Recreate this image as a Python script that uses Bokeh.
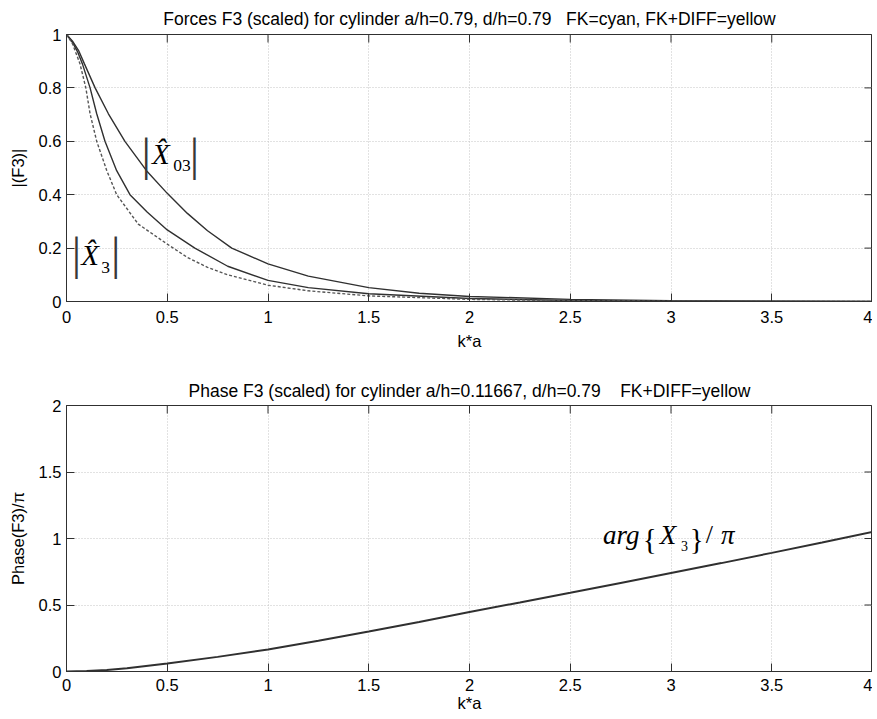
from bokeh.plotting import figure
from bokeh.layouts import column
from bokeh.models import FixedTicker, Range1d, Label
from bokeh.embed import file_html
from bokeh.resources import INLINE

# ---- data ----
ka_x03 = [0, 0.03, 0.06, 0.089, 0.142, 0.208, 0.29, 0.397, 0.5, 0.6, 0.7, 0.82, 1.0, 1.2, 1.5, 1.75, 2.0, 2.5, 3.0, 3.5, 4.0]
x03 = [1.0, 0.975, 0.94, 0.89, 0.80, 0.703, 0.60, 0.49, 0.405, 0.33, 0.265, 0.20, 0.141, 0.095, 0.052, 0.031, 0.019, 0.008, 0.003, 0.0012, 0.0005]

ka_x3 = [0, 0.03, 0.055, 0.079, 0.117, 0.150, 0.191, 0.249, 0.315, 0.4, 0.5, 0.637, 0.8, 1.0, 1.2, 1.5, 2.0, 2.5, 3.0, 4.0]
x3 = [1.0, 0.97, 0.935, 0.89, 0.80, 0.703, 0.60, 0.49, 0.40, 0.335, 0.268, 0.20, 0.132, 0.079, 0.052, 0.029, 0.011, 0.004, 0.0015, 0.0003]

ka_fk = [0, 0.03, 0.067, 0.096, 0.117, 0.150, 0.2, 0.249, 0.356, 0.5, 0.53, 0.6, 0.7, 0.8, 1.0, 1.2, 1.5, 2.0, 2.5, 3.0, 4.0]
fk = [1.0, 0.965, 0.89, 0.80, 0.703, 0.60, 0.49, 0.40, 0.29, 0.215, 0.20, 0.165, 0.128, 0.10, 0.061, 0.040, 0.021, 0.008, 0.003, 0.001, 0.0002]

phase_ka = [0, 0.1, 0.2, 0.3, 0.5, 0.75, 1.0, 1.25, 1.5, 1.75, 2.0, 2.25, 2.5, 2.75, 3.0, 3.25, 3.5, 3.75, 4.0]
phase = [0, 0.003, 0.011, 0.024, 0.061, 0.110, 0.166, 0.231, 0.300, 0.372, 0.447, 0.519, 0.592, 0.666, 0.740, 0.815, 0.892, 0.970, 1.050]

x_ticks = [0, 0.5, 1, 1.5, 2, 2.5, 3, 3.5, 4]
x_tick_labels = ["0", "0.5", "1", "1.5", "2", "2.5", "3", "3.5", "4"]
top_y_ticks = [0, 0.2, 0.4, 0.6, 0.8, 1]
top_y_tick_labels = ["0", "0.2", "0.4", "0.6", "0.8", "1"]
bot_y_ticks = [0, 0.5, 1, 1.5, 2]
bot_y_tick_labels = ["0", "0.5", "1", "1.5", "2"]

NB = "\u00a0"
top_title = "Forces F3 (scaled) for cylinder a/h=0.79, d/h=0.79" + NB * 3 + "FK=cyan, FK+DIFF=yellow"
bot_title = "Phase F3 (scaled) for cylinder a/h=0.11667, d/h=0.79" + NB * 4 + "FK+DIFF=yellow"

SANS = "Liberation Sans"
SERIF = "Liberation Serif"
INK = "#303030"
GRID = "#c4c4c4"
TICK_PX = 8
FIG_W = 872
LEFT = 66


def make_fig(height, ymax, yticks, ylabels, title, ylabel, top_border, bottom_border,
             title_standoff, xl_standoff, xa_standoff, frame_h):
    p = figure(width=FIG_W, height=height, x_range=Range1d(0, 4), y_range=Range1d(0, ymax),
               output_backend="svg", toolbar_location=None, title=title,
               min_border_left=LEFT, min_border_right=0, min_border_top=top_border,
               min_border_bottom=bottom_border)
    p.background_fill_color = "white"
    p.border_fill_color = "white"
    p.outline_line_color = INK
    p.outline_line_width = 1
    p.title.align = "center"
    p.title.text_font = SANS
    p.title.text_font_size = "17.5px"
    p.title.text_font_style = "normal"
    p.title.text_color = "black"
    p.title.standoff = title_standoff
    p.title.offset = 0

    p.xaxis.ticker = FixedTicker(ticks=x_ticks)
    p.xaxis.major_label_overrides = {float(k): v for k, v in zip(x_ticks, x_tick_labels)}
    p.yaxis.ticker = FixedTicker(ticks=yticks)
    p.yaxis.major_label_overrides = {float(k): v for k, v in zip(yticks, ylabels)}
    p.xaxis.axis_label = "k*a"
    p.yaxis.axis_label = ylabel
    for ax in (p.xaxis[0], p.yaxis[0]):
        ax.major_tick_in = TICK_PX
        ax.major_tick_out = 0
        ax.minor_tick_in = 0
        ax.minor_tick_out = 0
        ax.major_tick_line_color = INK
        ax.axis_line_color = INK
        ax.major_label_text_font = SANS
        ax.major_label_text_font_size = "16.5px"
        ax.major_label_text_color = "black"
        ax.axis_label_text_font = SANS
        ax.axis_label_text_font_size = "16.5px"
        ax.axis_label_text_font_style = "normal"
        ax.axis_label_text_color = "black"
    p.xaxis.major_label_standoff = xl_standoff
    p.xaxis.axis_label_standoff = xa_standoff
    p.yaxis.major_label_standoff = 5
    p.yaxis.axis_label_standoff = 9

    p.grid.grid_line_color = GRID
    p.grid.grid_line_dash = "1 2"
    p.grid.grid_line_width = 1
    p.xgrid.ticker = FixedTicker(ticks=x_ticks)
    p.ygrid.ticker = FixedTicker(ticks=yticks)

    # mirrored inward ticks on the top and right edges (box on)
    frame_w = FIG_W - LEFT
    dy = TICK_PX * ymax / frame_h
    dx = TICK_PX * 4 / frame_w
    p.segment(x0=x_ticks, y0=[ymax] * len(x_ticks), x1=x_ticks, y1=[ymax - dy] * len(x_ticks),
              line_color=INK, line_width=1)
    p.segment(x0=[4] * len(yticks), y0=yticks, x1=[4 - dx] * len(yticks), y1=yticks,
              line_color=INK, line_width=1)
    return p


top = make_fig(373, 1, top_y_ticks, top_y_tick_labels, top_title, "|(F3)|",
               34, 373 - 34 - 267, 11, 9, 6, 267)
top.line(ka_x03, x03, line_color=INK, line_width=1.4)
top.line(ka_x3, x3, line_color=INK, line_width=1.4)
top.line(ka_fk, fk, line_color="#555555", line_width=1.4, line_dash="3 2")


def lab(p, x, y, text, size, italic=False, align="left", color="black"):
    p.add_layout(Label(x=x, y=y, text=text, text_font=SERIF, text_font_size=size,
                       text_font_style="italic" if italic else "normal",
                       text_color=color, text_baseline="middle", text_align=align))


# |X^_03|
lab(top, 0.396, 0.554, "|", "47px", align="center", color="#383838")
lab(top, 0.635, 0.554, "|", "47px", align="center", color="#383838")
lab(top, 0.424, 0.552, "X\u0302", "29px", italic=True)
lab(top, 0.530, 0.509, "03", "17.5px")
# |X^_3|
lab(top, 0.0495, 0.180, "|", "47px", align="center", color="#383838")
lab(top, 0.244, 0.180, "|", "47px", align="center", color="#383838")
lab(top, 0.073, 0.176, "X\u0302", "29px", italic=True)
lab(top, 0.172, 0.129, "3", "17.5px")

bot = make_fig(341, 2, bot_y_ticks, bot_y_tick_labels, bot_title, "Phase(F3)/\u03c0",
               32, 10, 10, 7, 0, 266)
bot.line(phase_ka, phase, line_color=INK, line_width=2)

# arg{X_3}/pi
lab(bot, 2.663, 1.03, "arg", "27px", italic=True)
lab(bot, 2.860, 1.00, "{", "29px")
lab(bot, 2.944, 1.03, "X", "27px", italic=True)
lab(bot, 3.050, 0.947, "3", "14px")
lab(bot, 3.093, 1.00, "}", "29px")
lab(bot, 3.173, 1.03, "/", "26px")
lab(bot, 3.248, 1.03, "\u03c0", "27px", italic=True)

layout = column(top, bot)
open("out.html", "w").write(file_html(layout, INLINE))
